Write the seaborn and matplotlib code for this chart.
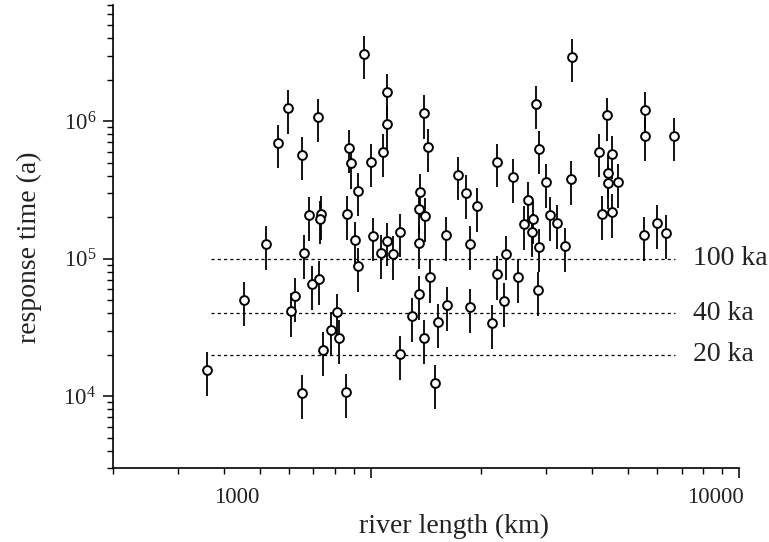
import numpy as np
import pandas as pd
import matplotlib
matplotlib.use("Agg")
import matplotlib.pyplot as plt
import matplotlib.transforms as mtransforms
from matplotlib.ticker import FixedLocator, FixedFormatter, LogLocator, NullFormatter
import seaborn as sns

# ---------------- data ----------------
river_length_km = [
    960, 1109, 1109, 597, 720, 561, 652, 874, 885, 1003, 1081, 1397, 1432,
    925, 1362, 1728, 1816, 2204, 2437, 3524, 2813, 2867, 4385, 5561, 5561,
    6665, 4172, 4524, 2995, 3502, 4413, 4413, 4697, 2676,
    681, 734, 729, 864, 520, 660, 908, 1016, 1109, 1068, 1151, 1203, 925,
    1354, 1406, 1354, 1603, 1863, 1946, 1450, 2332, 2204, 2303, 624, 694,
    725, 608, 811, 781, 821, 743, 1354, 1296, 1613, 1525, 1397, 1863, 2137,
    1203, 1497, 652, 858,
    2610, 2761, 2744, 3071, 3208, 2867, 3373, 2514, 2849, 4251, 4524, 5526,
    5995, 6341,
    360, 454,
]
response_time_a = [
    3.10e6, 1.64e6, 9.6e5, 1.25e6, 1.08e6, 6.97e5, 5.70e5, 6.41e5, 4.98e5,
    5.07e5, 5.99e5, 1.15e6, 6.52e5, 3.12e5, 3.07e5, 4.08e5, 3.01e5, 5.07e5,
    3.94e5, 2.95e6, 1.34e6, 6.30e5, 1.10e6, 1.21e6, 7.84e5, 7.84e5, 5.99e5,
    5.80e5, 3.62e5, 3.81e5, 4.22e5, 3.56e5, 3.62e5, 2.68e5,
    2.08e5, 2.12e5, 1.95e5, 2.12e5, 1.28e5, 1.10e5, 1.37e5, 1.47e5, 1.35e5,
    1.10e5, 1.08e5, 1.57e5, 8.86e4, 2.31e5, 2.05e5, 1.30e5, 1.49e5, 1.28e5,
    2.42e5, 7.37e4, 1.08e5, 7.75e4, 4.93e4, 5.36e4, 6.55e4, 7.13e4, 4.17e4,
    4.10e4, 3.03e4, 2.65e4, 2.17e4, 5.54e4, 3.83e4, 4.61e4, 3.46e4, 2.65e4,
    4.46e4, 3.41e4, 2.03e4, 1.25e4, 1.05e4, 1.07e4,
    1.79e5, 1.95e5, 1.57e5, 2.08e5, 1.82e5, 1.22e5, 1.24e5, 7.37e4, 5.93e4,
    2.12e5, 2.19e5, 1.49e5, 1.82e5, 1.54e5,
    1.55e4, 5.01e4,
]
relative_error = 0.35

reference_levels = [1e5, 4e4, 2e4]
reference_labels = ["100 ka", "40 ka", "20 ka"]
reference_span = [370, 6700]
reference_label_x = 7500

x_tick_values = [1000, 10000]
x_tick_labels = ["1000", "10000"]
x_tick_label_pos = [434, 8612]
y_tick_values = [1e4, 1e5, 1e6]
y_tick_labels = [r"$10^4$", r"$10^5$", r"$10^6$"]

x_label = "river length (km)"
y_label = "response time (a)"

# ---------------- style ----------------
sns.set_theme(style="ticks")
plt.rcParams["font.family"] = ["Liberation Serif", "DejaVu Serif"]
plt.rcParams["mathtext.fontset"] = "custom"
plt.rcParams["mathtext.rm"] = "Liberation Serif"
plt.rcParams["mathtext.it"] = "Liberation Serif:italic"
plt.rcParams["mathtext.bf"] = "Liberation Serif:bold"

W, H = 769, 542
fig = plt.figure(figsize=(W / 100, H / 100), dpi=100)
fig.patch.set_facecolor("white")
ax = fig.add_axes([113 / W, 1 - 468 / H, 626 / W, 463 / H])
ax.set_facecolor("white")

df = pd.DataFrame({"length": river_length_km, "time": response_time_a})
df["err"] = df["time"] * relative_error

ax.set_xscale("log")
ax.set_yscale("log")

# reference lines
ax.hlines(reference_levels, reference_span[0], reference_span[1],
          colors="black", linestyles=(0, (2.5, 2.5)), linewidth=0.9, zorder=1)
for lvl, lab in zip(reference_levels, reference_labels):
    ax.text(reference_label_x, lvl, lab, ha="left", va="center",
            fontsize=20, color="#222222", clip_on=False)

# error bars and markers
ax.errorbar(df["length"], df["time"], yerr=df["err"], fmt="none",
            ecolor="black", elinewidth=1.3, capsize=0, zorder=2)
sns.scatterplot(data=df, x="length", y="time", ax=ax, marker="o", s=40,
                color="white", edgecolor="black", linewidth=1.4, zorder=3,
                legend=False)

ax.set_xlim(200, 10000)
ax.set_ylim(3000, 7e6)

# ticks
ax.xaxis.set_major_locator(FixedLocator(x_tick_values))
ax.xaxis.set_major_formatter(NullFormatter())
ax.xaxis.set_minor_locator(LogLocator(base=10, subs=np.arange(2, 10)))
ax.xaxis.set_minor_formatter(NullFormatter())
ax.yaxis.set_major_locator(FixedLocator(y_tick_values))
ax.yaxis.set_major_formatter(FixedFormatter(y_tick_labels))
ax.yaxis.set_minor_locator(LogLocator(base=10, subs=np.arange(2, 10)))
ax.yaxis.set_minor_formatter(NullFormatter())
ax.tick_params(which="major", direction="out", length=7.2, width=1.1,
               color="black", labelsize=16.5, pad=5, labelcolor="#222222")
ax.tick_params(which="minor", direction="out", length=4, width=1.0, color="black")

trans = mtransforms.blended_transform_factory(ax.transData, ax.transAxes)
for xv, lab in zip(x_tick_label_pos, x_tick_labels):
    ax.text(xv, -0.041, lab, transform=trans, ha="center", va="top",
            fontsize=16.5, color="#222222")

for s in ["top", "right"]:
    ax.spines[s].set_visible(False)
for s in ["left", "bottom"]:
    ax.spines[s].set_linewidth(1.2)
    ax.spines[s].set_color("black")

ax.set_xlabel(x_label, fontsize=20, color="#222222")
ax.set_ylabel(y_label, fontsize=20, color="#222222")
ax.xaxis.set_label_coords(0.545, -0.098)
ax.yaxis.set_label_coords(-0.113, 0.477)

fig.savefig("out.png", dpi=100, facecolor="white")
